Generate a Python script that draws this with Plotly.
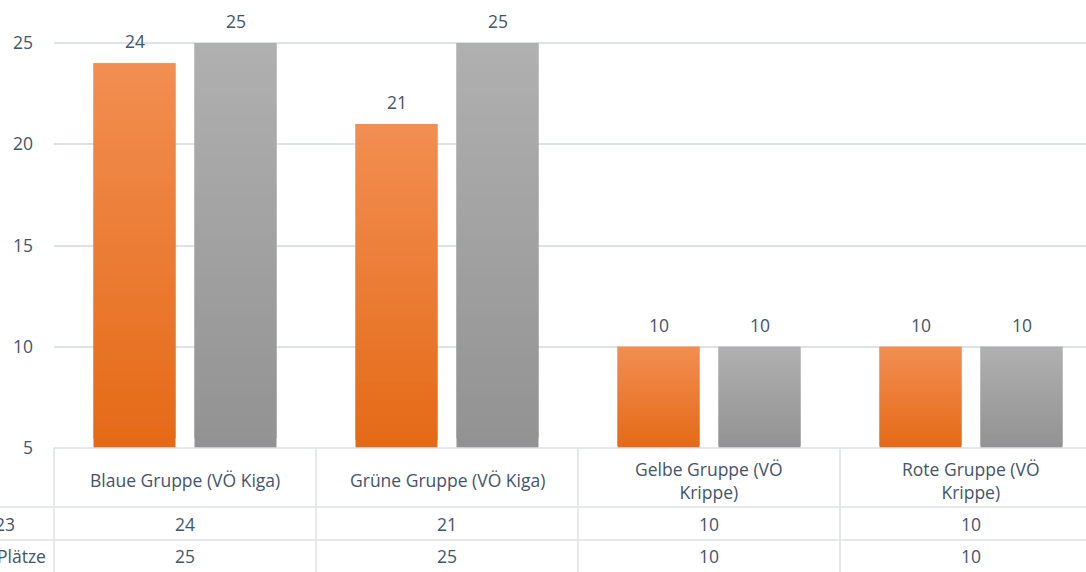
import plotly.graph_objects as go

# ---------------- data ----------------
categories = ["Blaue Gruppe (VÖ Kiga)", "Grüne Gruppe (VÖ Kiga)",
              "Gelbe Gruppe (VÖ Krippe)", "Rote Gruppe (VÖ Krippe)"]
category_labels = ["Blaue Gruppe (VÖ Kiga)", "Grüne Gruppe (VÖ Kiga)",
                   "Gelbe Gruppe (VÖ<br>Krippe)", "Rote Gruppe (VÖ<br>Krippe)"]
series1_name = "23"
series1_values = [24, 21, 10, 10]
series2_name = "Plätze"
series2_values = [25, 25, 10, 10]
y_ticks = [5, 10, 15, 20, 25]

# ---------------- styling ----------------
W, H = 1086, 572
ML, MT, MB = 54, 0, 124
PW, PH = W - ML, H - MT - MB
PX_PER_UNIT_Y = 20.25
PX_PER_CAT = 262
Y0 = 5
yrange = [Y0, Y0 + PH / PX_PER_UNIT_Y]
xrange = [-0.5, -0.5 + PW / PX_PER_CAT]
BARGAP = 0.229
BARGROUPGAP = 0.188
TEXT = "#44546A"
GRID = "#DDE2E9"
FONT = "Open Sans"
FS = 17.5
N_SEG = 40

orange_top, orange_bot = (242, 142, 82), (228, 106, 22)
gray_top, gray_bot = (176, 176, 176), (146, 146, 146)


def lerp(c1, c2, t):
    return "rgb(%d,%d,%d)" % tuple(round(a + (b - a) * t) for a, b in zip(c1, c2))


def px_y(ypx):  # pixel (from top of figure) -> paper y
    return (MT + PH - ypx) / PH


def px_x(xpx):
    return (xpx - ML) / PW


def dx_paper(xd):
    return (xd - xrange[0]) / (xrange[1] - xrange[0])


fig = go.Figure()


def add_gradient_series(values, group, ctop, cbot):
    for i in range(N_SEG):
        t = (i + 0.5) / N_SEG
        step = [(v - Y0) / N_SEG for v in values]
        bases = [Y0 + s * i for s in step]
        # overlap each segment into the next one (drawn on top) to avoid seams
        heights = [s * (1 if i == N_SEG - 1 else 2.0) for s in step]
        fig.add_trace(go.Bar(
            x=list(range(len(values))), y=heights, base=bases,
            offsetgroup=group, marker=dict(color=lerp(cbot, ctop, t), line=dict(width=0)),
            showlegend=False, hoverinfo="skip"))


add_gradient_series(series1_values, "s1", orange_top, orange_bot)
add_gradient_series(series2_values, "s2", gray_top, gray_bot)

font = dict(family=FONT, size=FS, color=TEXT)
annotations = []
off = (1 - BARGAP) / 4
for i, (a, b) in enumerate(zip(series1_values, series2_values)):
    for xv, val in ((i - off, a), (i + off, b)):
        annotations.append(dict(x=xv, y=val, xref="x", yref="y", text=str(val),
                                showarrow=False, xanchor="center", yanchor="bottom", yshift=8,
                                font=font))
    # data table cells
    annotations.append(dict(x=dx_paper(i), y=px_y(480), xref="paper", yref="paper",
                            text=category_labels[i], showarrow=False, xanchor="center",
                            yanchor="middle", font=font))
    annotations.append(dict(x=dx_paper(i), y=px_y(524), xref="paper", yref="paper",
                            text=str(a), showarrow=False, xanchor="center", yanchor="middle",
                            font=font))
    annotations.append(dict(x=dx_paper(i), y=px_y(556), xref="paper", yref="paper",
                            text=str(b), showarrow=False, xanchor="center", yanchor="middle",
                            font=font))

annotations.append(dict(x=px_x(17), y=px_y(524), xref="paper", yref="paper",
                        text=series1_name, showarrow=False, xanchor="right", yanchor="middle",
                        font=font))
annotations.append(dict(x=px_x(48), y=px_y(556), xref="paper", yref="paper",
                        text=series2_name, showarrow=False, xanchor="right", yanchor="middle",
                        font=font))

shapes = []
for ypx in (507, 540):
    shapes.append(dict(type="line", xref="paper", yref="paper", x0=px_x(0), x1=1,
                       y0=px_y(ypx), y1=px_y(ypx), line=dict(color=GRID, width=1.5)))
for k in range(len(categories)):
    xb = dx_paper(k - 0.5)
    shapes.append(dict(type="line", xref="paper", yref="paper", x0=xb, x1=xb,
                       y0=0, y1=px_y(H), line=dict(color=GRID, width=1.5)))
shapes.append(dict(type="line", xref="paper", yref="paper", x0=0, x1=1,
                   y0=0, y1=0, line=dict(color=GRID, width=1.5)))

fig.update_layout(
    width=W, height=H,
    margin=dict(l=ML, r=0, t=MT, b=MB, pad=0),
    paper_bgcolor="white", plot_bgcolor="white",
    barmode="group", bargap=BARGAP, bargroupgap=BARGROUPGAP,
    font=font,
    xaxis=dict(range=xrange, showticklabels=False, showgrid=False, zeroline=False,
               showline=False, ticks=""),
    yaxis=dict(range=yrange, tickvals=y_ticks, showgrid=True, gridcolor=GRID, gridwidth=1.5,
               zeroline=False, showline=False, ticks="", ticklabelstandoff=20,
               tickfont=font),
    annotations=annotations, shapes=shapes,
)

fig.write_html("out.html", config={"displayModeBar": False},
               post_script="document.body.style.margin='0';document.body.style.overflow='hidden';")
